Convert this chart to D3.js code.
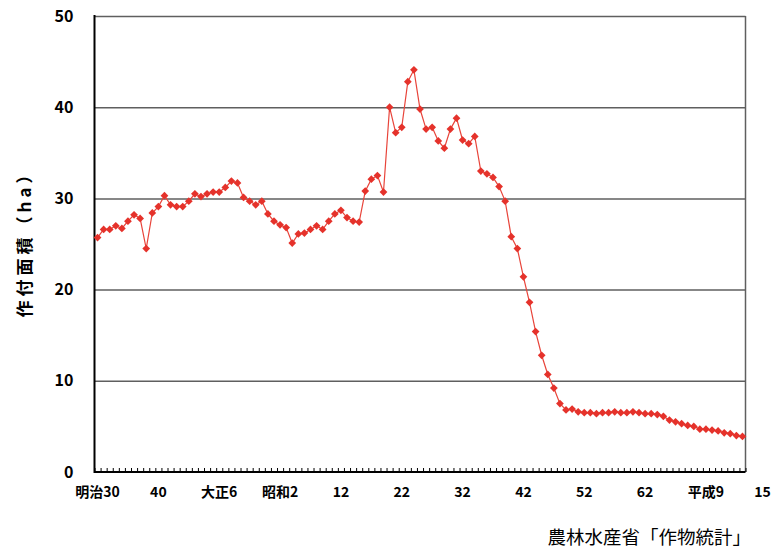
<!DOCTYPE html>
<html>
<head>
<meta charset="utf-8">
<script src="https://cdn.jsdelivr.net/npm/d3@7"></script>
<style>
  html, body { margin: 0; padding: 0; background: #fff; }
  svg { display: block; }
</style>
</head>
<body>
<svg id="chart" width="775" height="549"></svg>
<script>
// Years 1897 (明治30) .. 2003 (平成15)
const years = d3.range(1897, 2004);

// Planted area (ha), one value per year
const area = [
  25.7, 26.6, 26.6, 27.0, 26.7, 27.5, 28.2, 27.8, 24.5, 28.4,
  29.1, 30.3, 29.3, 29.1, 29.1, 29.7, 30.5, 30.2, 30.5, 30.7,
  30.7, 31.2, 31.9, 31.7, 30.1, 29.7, 29.3, 29.7, 28.3, 27.5,
  27.1, 26.8, 25.1, 26.1, 26.2, 26.6, 27.0, 26.6, 27.5, 28.3,
  28.7, 27.9, 27.5, 27.4, 30.8, 32.1, 32.5, 30.7, 40.0, 37.2,
  37.8, 42.8, 44.1, 39.8, 37.6, 37.8, 36.3, 35.5, 37.6, 38.8,
  36.4, 36.0, 36.8, 33.0, 32.7, 32.3, 31.3, 29.7, 25.8, 24.5,
  21.4, 18.6, 15.4, 12.8, 10.7, 9.2, 7.5, 6.8, 6.9, 6.6,
  6.5, 6.5, 6.4, 6.5, 6.5, 6.6, 6.5, 6.5, 6.6, 6.5,
  6.4, 6.4, 6.3, 6.1, 5.7, 5.5, 5.3, 5.1, 5.0, 4.7,
  4.7, 4.6, 4.5, 4.3, 4.2, 4.0, 3.9
];

// Category labels on the time axis
const tickYears  = [1897, 1907, 1917, 1927, 1937, 1947, 1957, 1967, 1977, 1987, 1997, 2003];
const tickLabels = ["明治30", "40", "大正6", "昭和2", "12", "22", "32", "42", "52", "62", "平成9", "15"];

const yTicks = [0, 10, 20, 30, 40, 50];
const yTitle = "作付面積（ha）";
const sourceNote = "農林水産省「作物統計」";

const data = years.map((yr, i) => ({ year: yr, value: area[i] }));

const svg = d3.select("#chart");
const plotL = 94.5, plotR = 745.5, plotT = 16, plotB = 472;
const FONT = "'Noto Sans CJK JP', sans-serif";

const x = d3.scaleBand().domain(years).range([plotL, plotR]).padding(0);
const y = d3.scaleLinear().domain([0, 50]).range([plotB, plotT]);
const cx = d => x(d.year) + x.bandwidth() / 2;

// Horizontal gridlines
const grid = svg.append("g")
  .attr("transform", `translate(${plotL},0)`)
  .call(d3.axisLeft(y).tickValues(yTicks.filter(v => v > 0))
    .tickSize(-(plotR - plotL)).tickFormat(""));
grid.select(".domain").remove();
grid.selectAll(".tick line").attr("stroke", "#5f5f5f").attr("stroke-width", 1.5);

// Right border of the plot area
svg.append("line")
  .attr("x1", plotR).attr("x2", plotR).attr("y1", plotT).attr("y2", plotB)
  .attr("stroke", "#5f5f5f").attr("stroke-width", 1.5);

// Year ticks along the bottom (one per category boundary, pointing inward)
const bx = d3.scaleLinear().domain([0, years.length]).range([plotL, plotR]);
const minor = svg.append("g")
  .attr("transform", `translate(0,${plotB})`)
  .call(d3.axisBottom(bx).tickValues(d3.range(0, years.length + 1))
    .tickSize(-4).tickFormat(""));
minor.select(".domain").remove();
minor.selectAll(".tick line").attr("stroke", "#000").attr("stroke-width", 1);

// Axis lines
svg.append("line").attr("x1", plotL).attr("x2", plotR).attr("y1", plotB).attr("y2", plotB)
  .attr("stroke", "#000").attr("stroke-width", 2);
svg.append("line").attr("x1", plotL).attr("x2", plotL).attr("y1", plotT - 1).attr("y2", plotB + 1)
  .attr("stroke", "#000").attr("stroke-width", 2);

// Y tick labels
const yAx = svg.append("g")
  .attr("transform", `translate(${plotL},0)`)
  .call(d3.axisLeft(y).tickValues(yTicks).tickSize(0).tickPadding(21).tickFormat(d3.format("d")));
yAx.select(".domain").remove();
yAx.selectAll("text")
  .attr("font-size", 16).attr("font-weight", "bold").attr("fill", "#000")
  .attr("font-family", FONT);

// X tick labels
const xAx = svg.append("g")
  .attr("transform", `translate(0,${plotB})`)
  .call(d3.axisBottom(x).tickValues(tickYears).tickSize(0).tickPadding(15)
    .tickFormat(d => tickLabels[tickYears.indexOf(d)]));
xAx.select(".domain").remove();
xAx.selectAll("text")
  .attr("font-size", 14).attr("font-weight", "bold").attr("fill", "#000")
  .attr("font-family", FONT)
  .attr("dx", d => d === 2003 ? 20 : 0);

// Series line
svg.append("path")
  .datum(data)
  .attr("fill", "none")
  .attr("stroke", "#e8443a")
  .attr("stroke-width", 1.2)
  .attr("d", d3.line().x(cx).y(d => y(d.value)));

// Diamond markers
const diamond = d3.symbol().type(d3.symbolSquare).size(30)();
svg.append("g").selectAll("path")
  .data(data)
  .join("path")
  .attr("d", diamond)
  .attr("fill", "#e5322b")
  .attr("transform", d => `translate(${cx(d)},${y(d.value)}) rotate(45)`);

// Y axis title
svg.append("text")
  .attr("transform", "translate(31,240) rotate(-90)")
  .attr("text-anchor", "middle")
  .attr("font-family", FONT)
  .attr("font-size", 17).attr("font-weight", "bold")
  .attr("letter-spacing", 4)
  .text(yTitle);

// Source note
svg.append("text")
  .attr("x", 751).attr("y", 544)
  .attr("text-anchor", "end")
  .attr("font-family", FONT)
  .attr("font-size", 18.5)
  .text(sourceNote);
</script>
</body>
</html>
